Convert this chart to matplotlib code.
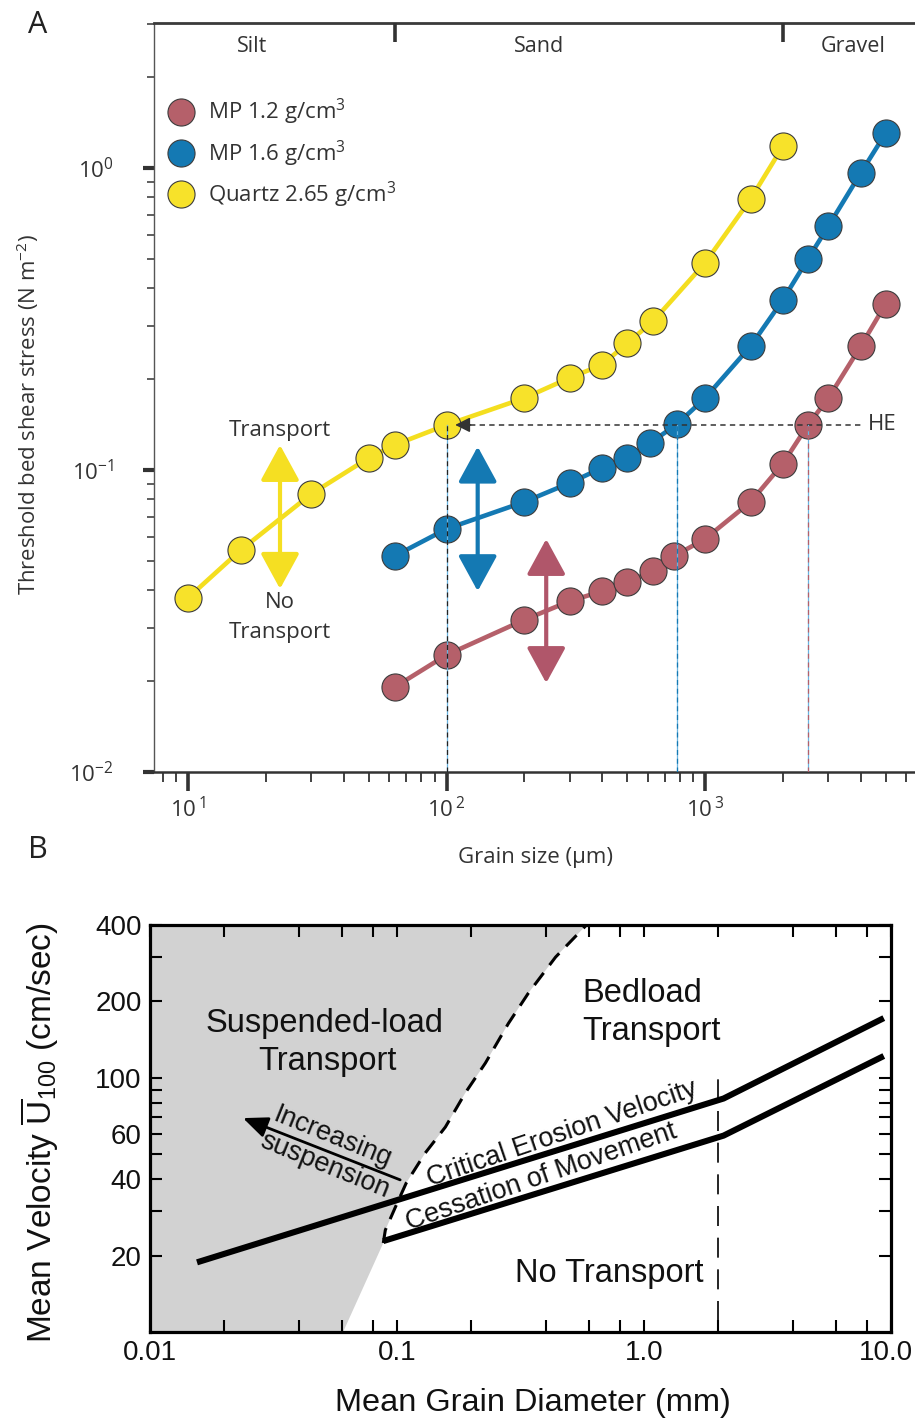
import numpy as np
import matplotlib
matplotlib.use("Agg")
import matplotlib.pyplot as plt
import matplotlib.transforms as mtransforms
from matplotlib.lines import Line2D
from matplotlib.ticker import FixedLocator, FixedFormatter, NullFormatter

# ---------------- Panel A data ----------------
quartz_size = [10, 16, 30, 50, 63, 100, 200, 300, 400, 500, 630, 1000, 1500, 2000]
quartz_tau = [0.0377, 0.0543, 0.0833, 0.1096, 0.121, 0.141, 0.173, 0.202, 0.223,
              0.263, 0.311, 0.485, 0.789, 1.18]
mp16_size = [63, 100, 200, 300, 400, 500, 615, 780, 1000, 1500, 2000, 2500, 3000, 4000, 5000]
mp16_tau = [0.0519, 0.0638, 0.0784, 0.0906, 0.1017, 0.1096, 0.123, 0.142, 0.173,
            0.257, 0.366, 0.50, 0.642, 0.962, 1.306]
mp12_size = [63, 100, 200, 300, 400, 500, 630, 760, 1000, 1500, 2000, 2500, 3000, 4000, 5000]
mp12_tau = [0.0191, 0.0244, 0.0319, 0.0368, 0.0397, 0.0426, 0.0463, 0.0519, 0.0591,
            0.0784, 0.105, 0.141, 0.173, 0.257, 0.355]
series_labels = [r"MP 1.2 g/cm$\mathregular{^3}$", r"MP 1.6 g/cm$\mathregular{^3}$",
                 r"Quartz 2.65 g/cm$\mathregular{^3}$"]

he_tau = 0.141
he_sizes = [100, 780, 2500]
class_bounds = [63, 2000]
class_names = ["Silt", "Sand", "Gravel"]
class_centers = [17.7, 228, 3730]
arrow_sizes = [22.7, 132, 243]
arrow_low = [0.0404, 0.0397, 0.0197]
arrow_high = [0.121, 0.1195, 0.0591]

xA_ticks = [10, 100, 1000]
xA_ticklabels = [r"$\mathregular{10^{\,1}}$", r"$\mathregular{10^{\,2}}$", r"$\mathregular{10^{\,3}}$"]
yA_ticks = [0.01, 0.1, 1]
yA_ticklabels = [r"$\mathregular{10^{-2}}$", r"$\mathregular{10^{-1}}$", r"$\mathregular{10^{0}}$"]

# ---------------- Panel B data ----------------
erosion_d = [0.0155, 2.1, 9.35]
erosion_u = [18.8, 83, 172]
cessation_d = [0.088, 2.1, 9.35]
cessation_u = [22.8, 59.3, 122]
susp_d = [0.088, 0.0897, 0.0985, 0.109, 0.130, 0.157, 0.189, 0.228, 0.2826, 0.3406, 0.4385, 0.585]
susp_u = [22.4, 25.2, 31.0, 38.6, 50.6, 64.1, 87.3, 114.5, 164, 216, 299, 400]
susp_base_d = 0.0605
gravel_d = 2.0
gravel_u = [11, 102]

xB_ticks = [0.01, 0.1, 1, 10]
xB_ticklabels = ["0.01", "0.1", "1.0", "10.0"]
xB_minor = [0.02, 0.04, 0.06, 0.08, 0.2, 0.4, 0.6, 0.8, 2, 4, 6, 8]
yB_ticks = [20, 40, 60, 100, 200, 400]
yB_ticklabels = ["20", "40", "60", "100", "200", "400"]
yB_minor = [30, 50, 70, 80, 90, 300]

# ---------------- styling ----------------
RED = "#b5606a"
BLUE = "#1479b3"
YEL = "#f7e22a"
EDGE = "#3c3c3c"
DARK = "#333333"
FA = "Open Sans"
FB = "Liberation Sans"

plt.rcParams["font.family"] = [FA, "DejaVu Sans"]

W, H = 915, 1419
fig = plt.figure(figsize=(W / 100, H / 100), dpi=100)


def rect(l, t, r, b):
    return [l / W, 1 - b / H, (r - l) / W, (b - t) / H]


def fpos(x, y):
    return x / W, 1 - y / H


# ================= Panel A =================
axA = fig.add_axes(rect(154, 23, 915, 772))
axA.set_xscale("log")
axA.set_yscale("log")
axA.set_xlim(7.39, 6486)
axA.set_ylim(0.01, 3.02)

axA.spines["right"].set_visible(False)
axA.spines["top"].set_linewidth(2.0)
axA.spines["top"].set_color("#3a3a3a")
axA.spines["left"].set_linewidth(1.0)
axA.spines["left"].set_color("#555555")
axA.spines["bottom"].set_linewidth(1.8)
axA.spines["bottom"].set_color(DARK)

axA.xaxis.set_major_locator(FixedLocator(xA_ticks))
axA.xaxis.set_major_formatter(FixedFormatter(xA_ticklabels))
axA.xaxis.set_minor_locator(FixedLocator([v * m for v in [1, 10, 100, 1000] for m in range(2, 10)]))
axA.xaxis.set_minor_formatter(NullFormatter())
axA.yaxis.set_major_locator(FixedLocator(yA_ticks))
axA.yaxis.set_major_formatter(FixedFormatter(yA_ticklabels))
axA.yaxis.set_minor_locator(FixedLocator([v * m for v in [0.01, 0.1, 1] for m in range(2, 10)]))
axA.yaxis.set_minor_formatter(NullFormatter())

axA.tick_params(axis="x", which="major", direction="out", length=14, width=2.6,
                color=DARK, labelcolor=DARK, labelsize=16, pad=4)
axA.tick_params(axis="x", which="minor", direction="out", length=7, width=1.3, color=DARK)
axA.tick_params(axis="y", which="major", direction="out", length=8, width=3,
                color=DARK, labelcolor=DARK, labelsize=16, pad=21)
axA.tick_params(axis="y", which="minor", direction="out", length=5, width=1.1, color=DARK)

lw_series = 3.3
ms = 19.5
axA.plot(mp12_size, mp12_tau, "-o", color=RED, lw=lw_series, ms=ms, mfc=RED,
         mec=EDGE, mew=0.8, zorder=3)
axA.plot(mp16_size, mp16_tau, "-o", color=BLUE, lw=lw_series, ms=ms, mfc=BLUE,
         mec=EDGE, mew=0.8, zorder=3)
axA.plot(quartz_size, quartz_tau, "-o", color="#f4de1f", lw=lw_series, ms=ms, mfc=YEL,
         mec=EDGE, mew=0.8, zorder=3)

# HE line
axA.plot([123, 4050], [he_tau, he_tau], ls=(0, (3.5, 2.8)), color=DARK, lw=1.1, zorder=5)
axA.annotate("", xy=(108, he_tau), xytext=(124, he_tau),
             arrowprops=dict(arrowstyle="-|>,head_length=0.6,head_width=0.3",
                             mutation_scale=15, color=DARK, lw=1.1,
                             shrinkA=0, shrinkB=0), zorder=6)
axA.text(4842, he_tau, "HE", ha="center", va="center", fontsize=16, color=DARK)

dash_cols = ["#222222", BLUE, RED]
for s, c in zip(he_sizes, dash_cols):
    axA.plot([s, s], [0.01, he_tau], color="#6ab4e0", lw=0.9, zorder=5)
    axA.plot([s, s], [0.01, he_tau], color=c, lw=0.9, ls=(0, (4, 3)), zorder=5)

# double arrows
arrow_cols = ["#f5df22", BLUE, "#b0566a"]
for s, lo, hi, c in zip(arrow_sizes, arrow_low, arrow_high, arrow_cols):
    axA.annotate("", xy=(s, hi), xytext=(s, lo),
                 arrowprops=dict(arrowstyle="<|-|>,head_length=1.1,head_width=0.6",
                                 mutation_scale=20, color=c, lw=3,
                                 shrinkA=0, shrinkB=0), zorder=6)

axA.text(arrow_sizes[0], 0.1356, "Transport", ha="center", va="center", fontsize=16, color=DARK)
axA.text(arrow_sizes[0], 0.0363, "No", ha="center", va="center", fontsize=16, color=DARK)
axA.text(arrow_sizes[0], 0.0289, "Transport", ha="center", va="center", fontsize=16, color=DARK)

# class boundaries
for b in class_bounds:
    axA.plot([b, b], [1, 1 - 19 / 749], transform=axA.get_xaxis_transform(),
             color=DARK, lw=2.6, solid_capstyle="butt", clip_on=False, zorder=6)
for name, cx in zip(class_names, class_centers):
    axA.text(cx, 0.969, name, transform=axA.get_xaxis_transform(), ha="center",
             va="center", fontsize=15.5, color=DARK)

handles = [Line2D([], [], ls="none", marker="o", ms=ms, mfc=c, mec=EDGE, mew=0.8)
           for c in [RED, BLUE, YEL]]
leg = axA.legend(handles, series_labels, loc="upper left",
                 bbox_to_anchor=((166.6 - 154) / 761, (772 - 97) / 749),
                 frameon=False, fontsize=16, handletextpad=0.56, labelspacing=0.5,
                 handlelength=1.3, borderpad=0, borderaxespad=0)
for t in leg.get_texts():
    t.set_color(DARK)

fig.text(*fpos(28, 415), r"Threshold bed shear stress (N m$\mathregular{^{-2}}$)",
         rotation=90, ha="center", va="center", fontsize=15.9, color=DARK)
fig.text(*fpos(535, 857), "Grain size (µm)", ha="center", va="center",
         fontsize=16, color=DARK)
fig.text(*fpos(38, 25), "A", ha="center", va="center", fontsize=22, color="#222222")
fig.text(*fpos(38, 850), "B", ha="center", va="center", fontsize=22, color="#222222")

# ================= Panel B =================
axB = fig.add_axes(rect(150, 925, 891, 1332))
axB.set_xscale("log")
axB.set_yscale("log")
axB.set_xlim(0.01, 10)
axB.set_ylim(10, 400)
for sp in axB.spines.values():
    sp.set_linewidth(2.3)
    sp.set_color("black")
    sp.set_zorder(10)

axB.xaxis.set_major_locator(FixedLocator(xB_ticks))
axB.xaxis.set_major_formatter(FixedFormatter(xB_ticklabels))
axB.xaxis.set_minor_locator(FixedLocator(xB_minor))
axB.xaxis.set_minor_formatter(NullFormatter())
axB.yaxis.set_major_locator(FixedLocator(yB_ticks))
axB.yaxis.set_major_formatter(FixedFormatter(yB_ticklabels))
axB.yaxis.set_minor_locator(FixedLocator(yB_minor))
axB.yaxis.set_minor_formatter(NullFormatter())
axB.tick_params(which="both", direction="in", length=8.5, width=1.5, top=True,
                right=True, color="black", labelsize=20, labelfontfamily=FB, pad=6,
                labelcolor="#111111")

# suspended-load region
poly_x = [0.01, susp_base_d] + susp_d + [0.01]
poly_y = [10, 10] + susp_u + [400]
axB.fill(poly_x, poly_y, color="#d2d2d2", lw=0, zorder=0)
axB.plot(susp_d, susp_u, color="black", lw=2.2, ls=(0, (5, 3.2)), zorder=3)

axB.plot(erosion_d, erosion_u, color="black", lw=4.4, solid_capstyle="butt",
         solid_joinstyle="round", zorder=4)
axB.plot(cessation_d, cessation_u, color="black", lw=4.4, solid_capstyle="butt",
         solid_joinstyle="round", zorder=4)
axB.plot([gravel_d, gravel_d], gravel_u, color="black", lw=1.2, ls=(0, (12, 7)), zorder=3)

axB.annotate("", xy=(0.0238, 69.5), xytext=(0.103, 39.7),
             arrowprops=dict(arrowstyle="-|>,head_length=0.75,head_width=0.32",
                             mutation_scale=20, color="black", lw=2.0,
                             shrinkA=0, shrinkB=0), zorder=5)

tb = dict(family=FB, color="#111111")
fig.text(*fpos(325, 1032), "Suspended-load", ha="center", va="baseline", fontsize=23.5, **tb)
fig.text(*fpos(327, 1070), "Transport", ha="center", va="baseline", fontsize=23.5, **tb)
fig.text(*fpos(582, 1002), "Bedload", ha="left", va="baseline", fontsize=23.5, **tb)
fig.text(*fpos(582, 1040), "Transport", ha="left", va="baseline", fontsize=23.5, **tb)
fig.text(*fpos(609, 1282), "No Transport", ha="center", va="baseline", fontsize=23.5, **tb)
fig.text(*fpos(562, 1134), "Critical Erosion Velocity", ha="center", va="center",
         rotation=18.8, rotation_mode="anchor", fontsize=19.5, **tb)
fig.text(*fpos(541, 1177), "Cessation of Movement", ha="center", va="center",
         rotation=19, rotation_mode="anchor", fontsize=19.5, **tb)
fig.text(*fpos(332, 1137), "Increasing", ha="center", va="center",
         rotation=-22, rotation_mode="anchor", fontsize=19.5, **tb)
fig.text(*fpos(325, 1166), "suspension", ha="center", va="center",
         rotation=-22, rotation_mode="anchor", fontsize=19.5, **tb)

fig.text(*fpos(533, 1403), "Mean Grain Diameter (mm)", ha="center", va="center",
         fontsize=23.4, **tb)
fig.text(*fpos(40, 1133), r"Mean Velocity $\mathregular{\overline{U}_{100}}$ (cm/sec)",
         rotation=90, ha="center", va="center", fontsize=24, **tb)

# keep the last x tick label inside the figure
fig.canvas.draw()
last = axB.get_xticklabels()[-1]
last.set_transform(last.get_transform() + mtransforms.ScaledTranslation(-5 / 100, 0, fig.dpi_scale_trans))

fig.savefig("out.png", dpi=100)
